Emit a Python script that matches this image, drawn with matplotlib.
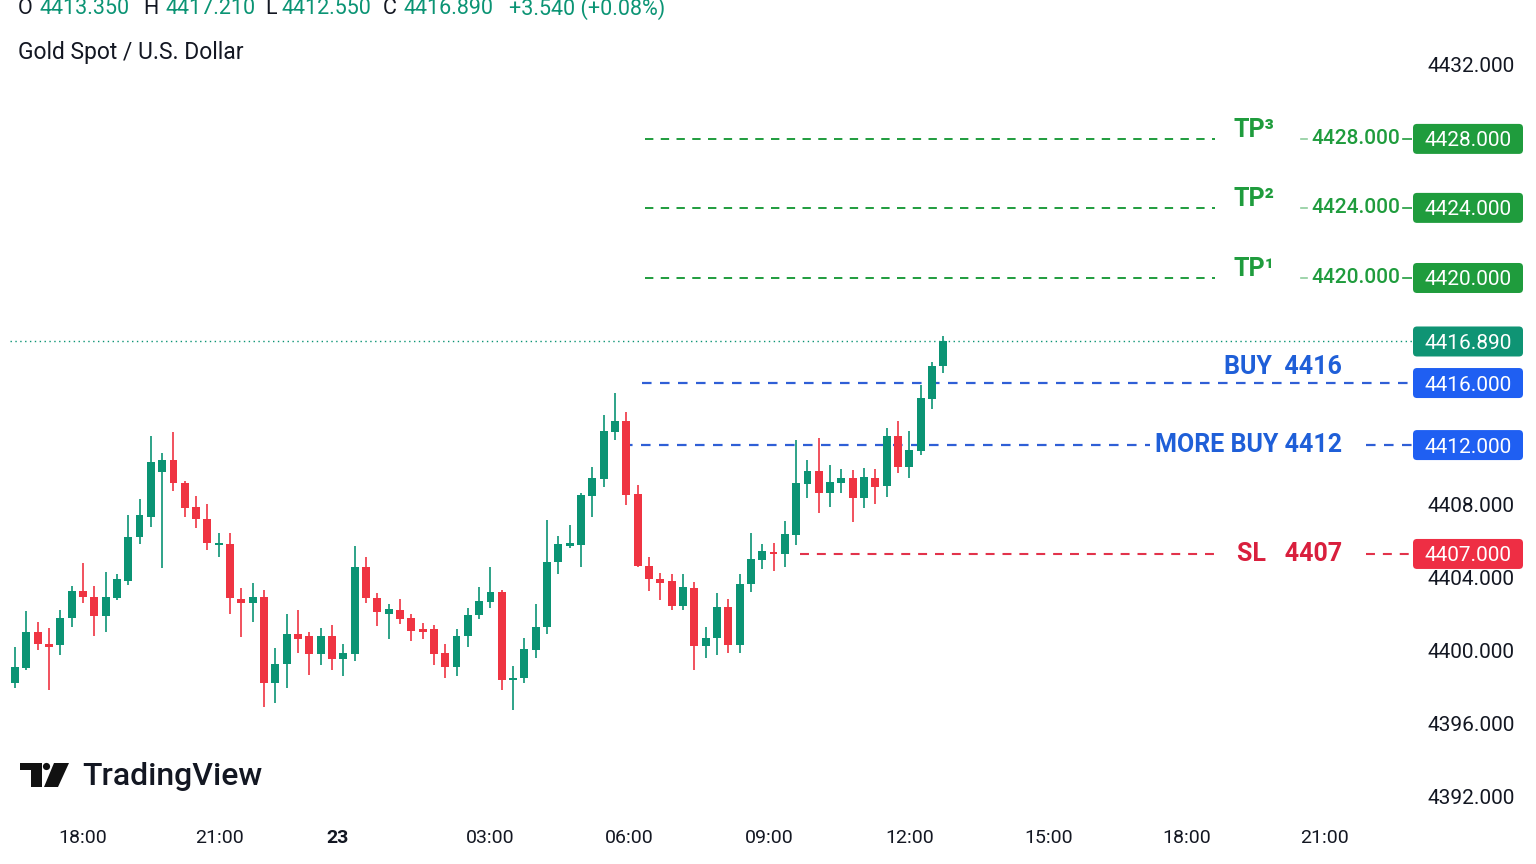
import numpy as np
import matplotlib
matplotlib.use("Agg")
import matplotlib.pyplot as plt
from matplotlib.patches import FancyBboxPatch, Polygon, Circle
from matplotlib.transforms import IdentityTransform

plt.rcParams["font.family"] = ["Roboto", "DejaVu Sans"]

# ============================================================
# Data (15 min candles, XAUUSD)
# ============================================================

opens = [4398.23, 4399.05, 4401.02, 4400.36, 4400.31, 4401.78, 4403.26, 4402.93, 4401.89, 4402.87,
         4403.80, 4406.21, 4407.30, 4409.76, 4410.41, 4409.16, 4407.85, 4407.19, 4405.77, 4405.82,
         4402.82, 4402.60, 4402.93, 4398.23, 4399.27, 4400.91, 4400.80, 4399.81, 4400.80, 4399.54,
         4399.81, 4404.57, 4402.87, 4402.00, 4402.22, 4401.78, 4401.18, 4401.18, 4399.87, 4399.10,
         4400.80, 4401.94, 4402.66, 4403.20, 4398.39, 4398.50, 4400.03, 4401.29, 4404.84, 4405.71,
         4405.77, 4408.45, 4409.38, 4411.94, 4412.54, 4408.56, 4404.62, 4403.91, 4403.80, 4402.44,
         4403.42, 4400.25, 4400.69, 4402.38, 4400.31, 4403.64, 4404.95, 4405.39, 4405.28, 4406.32,
         4409.10, 4409.81, 4408.61, 4409.16, 4409.43, 4408.34, 4409.43, 4408.99, 4411.73, 4410.03,
         4410.91, 4413.75, 4415.55]
highs = [4400.20, 4402.16, 4401.56, 4401.23, 4402.22, 4403.53, 4404.79, 4403.53, 4404.29, 4404.18,
         4407.41, 4408.28, 4411.73, 4410.80, 4411.94, 4409.27, 4408.45, 4408.01, 4406.43, 4406.43,
         4403.42, 4403.69, 4403.31, 4400.14, 4402.00, 4402.22, 4401.02, 4401.23, 4401.40, 4400.36,
         4405.71, 4405.11, 4403.15, 4402.55, 4402.82, 4402.00, 4401.51, 4401.40, 4400.36, 4401.18,
         4402.33, 4403.47, 4404.57, 4403.31, 4399.16, 4400.69, 4402.55, 4407.14, 4406.26, 4406.86,
         4408.61, 4410.03, 4412.87, 4414.07, 4413.04, 4409.05, 4405.11, 4404.24, 4404.18, 4404.18,
         4403.75, 4401.29, 4403.15, 4402.82, 4404.18, 4406.43, 4405.82, 4405.88, 4407.08, 4411.51,
         4410.41, 4411.62, 4410.14, 4409.92, 4409.87, 4409.98, 4409.92, 4412.16, 4412.54, 4412.00,
         4414.51, 4415.77, 4417.21]
lows = [4397.96, 4398.94, 4400.03, 4397.85, 4399.76, 4401.29, 4402.60, 4400.80, 4401.02, 4402.76,
        4403.58, 4405.82, 4406.75, 4404.51, 4408.72, 4407.30, 4406.70, 4405.50, 4405.11, 4402.00,
        4400.74, 4401.56, 4396.92, 4397.14, 4397.96, 4399.87, 4398.67, 4399.21, 4398.94, 4398.61,
        4399.43, 4402.60, 4401.34, 4400.63, 4401.45, 4400.52, 4400.63, 4399.21, 4398.50, 4398.61,
        4400.20, 4401.73, 4402.33, 4397.85, 4396.75, 4398.23, 4399.60, 4400.91, 4404.18, 4405.61,
        4404.57, 4407.30, 4408.94, 4411.51, 4407.95, 4404.57, 4403.26, 4402.76, 4402.22, 4402.22,
        4398.94, 4399.60, 4399.76, 4399.87, 4399.87, 4403.20, 4404.46, 4404.35, 4404.57, 4405.77,
        4408.34, 4407.52, 4407.85, 4408.61, 4407.03, 4407.79, 4408.01, 4408.39, 4409.70, 4409.43,
        4410.69, 4413.20, 4415.17]
closes = [4399.10, 4401.02, 4400.36, 4400.20, 4401.78, 4403.26, 4402.93, 4401.89, 4402.93, 4403.91,
          4406.21, 4407.41, 4410.30, 4410.41, 4409.16, 4407.79, 4407.19, 4405.88, 4405.88, 4402.87,
          4402.60, 4402.93, 4398.23, 4399.27, 4400.91, 4400.63, 4399.81, 4400.80, 4399.54, 4399.87,
          4404.57, 4402.87, 4402.11, 4402.27, 4401.73, 4401.07, 4401.02, 4399.81, 4399.10, 4400.80,
          4401.94, 4402.71, 4403.20, 4398.39, 4398.50, 4400.09, 4401.29, 4404.84, 4405.82, 4405.88,
          4408.50, 4409.43, 4412.00, 4412.54, 4408.50, 4404.62, 4403.91, 4403.69, 4402.44, 4403.47,
          4400.25, 4400.69, 4402.38, 4400.31, 4403.64, 4405.00, 4405.44, 4405.28, 4406.37, 4409.16,
          4409.81, 4408.61, 4409.21, 4409.43, 4408.34, 4409.49, 4408.94, 4411.73, 4410.03, 4410.96,
          4413.80, 4415.55, 4416.89]

time_ticks = [6.0, 18.1, 28.5, 42.0, 54.3, 66.6, 79.0, 91.3, 103.5, 115.7]
time_labels = ["18:00", "21:00", "23", "03:00", "06:00", "09:00", "12:00", "15:00", "18:00", "21:00"]
price_ticks = [4392, 4396, 4400, 4404, 4408, 4432]

# trade levels: value written on the label, and where the line sits on the price scale
tp_values = [4420, 4424, 4428]
tp_lines = [4420.36, 4424.19, 4427.96]
tp_names = ["TP¹", "TP²", "TP³"]
buy_value, buy_line = 4416, 4414.62
more_buy_value, more_buy_line = 4412, 4411.23
sl_value, sl_line = 4407, 4405.28
last_price = 4416.89

header_keys = ["O", "H", "L", "C"]
header_vals = ["4413.350", "4417.210", "4412.550", "4416.890"]
header_change = "+3.540 (+0.08%)"

# ============================================================
# Style
# ============================================================

UP = "#0b9474"
DOWN = "#ef3442"
TP_GREEN = "#1f9c3d"
BLUE_TXT = "#1f5fd8"
BLUE_LINE = "#2f5fd6"
BLUE_BOX = "#1f5ff2"
RED_TXT = "#d91f3d"
RED_LINE = "#e2334b"
RED_BOX = "#ee2e44"
TEXT = "#131722"

W, H = 1536, 864
fig = plt.figure(figsize=(W / 100, H / 100), dpi=100)
fig.patch.set_facecolor("white")
ax = fig.add_axes([0, 49 / H, 1412 / W, 815 / H])

x = np.arange(len(opens))
o = np.array(opens)
c = np.array(closes)
colors = [UP if cc >= oo else DOWN for oo, cc in zip(o, c)]

ax.vlines(x, lows, highs, colors=colors, linewidth=1.2, zorder=2)
bottoms = np.minimum(o, c)
heights = np.maximum(np.abs(c - o), 0.12)
ax.bar(x, heights, bottom=bottoms, width=0.7, color=colors, linewidth=0, zorder=3)

ax.set_xlim(-1.325, 123.4)
ax.set_ylim(4391.016, 4435.55)

for s in ax.spines.values():
    s.set_visible(False)

ax.yaxis.tick_right()
ax.set_yticks(price_ticks)
ax.set_yticklabels([f"{v:.3f}" for v in price_ticks])
ax.tick_params(axis="y", length=0, pad=11.5, labelsize=15, labelcolor=TEXT)
ax.set_xticks(time_ticks)
ax.set_xticklabels(time_labels)
ax.tick_params(axis="x", length=0, pad=10, labelsize=14, labelcolor=TEXT)
for lbl in ax.get_xticklabels():
    if lbl.get_text() == "23":
        lbl.set_fontweight("bold")

dash = (0, (4.3, 3.8))

# TP levels
for val, lvl, name in zip(tp_values, tp_lines, tp_names):
    ax.plot([55.65, 106.0], [lvl, lvl], color=TP_GREEN, lw=1.4, ls=dash, zorder=1)
    ax.plot([113.6, 114.1], [lvl, lvl], color=TP_GREEN, lw=1.2, alpha=0.5, zorder=1)
    ax.plot([122.6, 123.4], [lvl, lvl], color=TP_GREEN, lw=1.2, zorder=1)
    ax.annotate(name, xy=(107.6, lvl), xytext=(0, 6.5), textcoords="offset points",
                ha="left", va="center", fontsize=18, fontweight="bold", color=TP_GREEN)
    ax.text(122.35, lvl, f"{val:.3f}", ha="right", va="center", fontsize=15,
            fontweight="medium", color=TP_GREEN)

# current price
ax.plot([-0.44, 123.4], [last_price, last_price], color=UP, lw=1, ls=(0, (1, 2.5)), zorder=1)

# buy
ax.plot([55.4, 123.4], [buy_line, buy_line], color=BLUE_LINE, lw=1.6, ls=dash, zorder=1)
ax.annotate(f"BUY  {buy_value}", xy=(117.2, buy_line), xytext=(0, 11.5), textcoords="offset points",
            ha="right", va="center", fontsize=18, fontweight="bold", color=BLUE_TXT)

# more buy
ax.plot([53.7, 100.3], [more_buy_line] * 2, color=BLUE_LINE, lw=1.6, ls=dash, zorder=1)
ax.plot([119.3, 123.4], [more_buy_line] * 2, color=BLUE_LINE, lw=1.6, ls=dash, zorder=1)
ax.text(117.2, more_buy_line, f"MORE BUY {more_buy_value}", ha="right", va="center",
        fontsize=18, fontweight="bold", color=BLUE_TXT)

# stop loss
ax.plot([69.3, 106.0], [sl_line] * 2, color=RED_LINE, lw=1.5, ls=dash, zorder=1)
ax.plot([119.3, 123.4], [sl_line] * 2, color=RED_LINE, lw=1.5, ls=dash, zorder=1)
ax.text(117.2, sl_line, f"SL   {sl_value}", ha="right", va="center",
        fontsize=18, fontweight="bold", color=RED_TXT)

# ============================================================
# Price labels on the right scale (pixel space)
# ============================================================

ident = IdentityTransform()


def price_box(pos, label, face):
    y = ax.transData.transform((0, pos))[1]
    fig.add_artist(FancyBboxPatch((1413, y - 15), 110, 30,
                                  boxstyle="round,pad=0,rounding_size=4",
                                  transform=ident, facecolor=face, edgecolor="none"))
    fig.text(1468, y, label, transform=ident, ha="center", va="center_baseline",
             color="white", fontsize=15)


for val, lvl in zip(tp_values, tp_lines):
    price_box(lvl, f"{val:.3f}", TP_GREEN)
price_box(last_price, f"{last_price:.3f}", "#0f9474")
price_box(buy_line, f"{buy_value:.3f}", BLUE_BOX)
price_box(more_buy_line, f"{more_buy_value:.3f}", BLUE_BOX)
price_box(sl_line, f"{sl_value:.3f}", RED_BOX)

# ============================================================
# Header, symbol and logo
# ============================================================

key_x = [18, 143, 265, 383]
val_x = [40, 165, 282, 404]
for k, v, kx, vx in zip(header_keys, header_vals, key_x, val_x):
    fig.text(kx, H - 9, k, transform=ident, ha="left", va="center", fontsize=15.5, color=TEXT)
    fig.text(vx, H - 9, v, transform=ident, ha="left", va="center", fontsize=15.5, color=UP)
fig.text(509, H - 9, header_change, transform=ident, ha="left", va="center", fontsize=15.5, color=UP)

fig.text(18, H - 53, "Gold Spot / U.S. Dollar", transform=ident, ha="left", va="center",
         fontsize=16.5, color=TEXT)

logo = "#111111"
fig.add_artist(Polygon([(20, H - 763), (42, H - 763), (42, H - 787), (31, H - 787), (31, H - 770), (20, H - 770)],
                       closed=True, transform=ident, facecolor=logo, edgecolor="none"))
fig.add_artist(Circle((46.5, H - 766.5), 3.6, transform=ident, facecolor=logo, edgecolor="none"))
fig.add_artist(Polygon([(54, H - 763), (69, H - 763), (58, H - 787), (44, H - 787)],
                       closed=True, transform=ident, facecolor=logo, edgecolor="none"))
fig.text(82, H - 785, "TradingView", transform=ident, ha="left", va="baseline",
         fontsize=23, fontweight="medium", color=TEXT)

fig.savefig("out.png", dpi=100, facecolor="white")
